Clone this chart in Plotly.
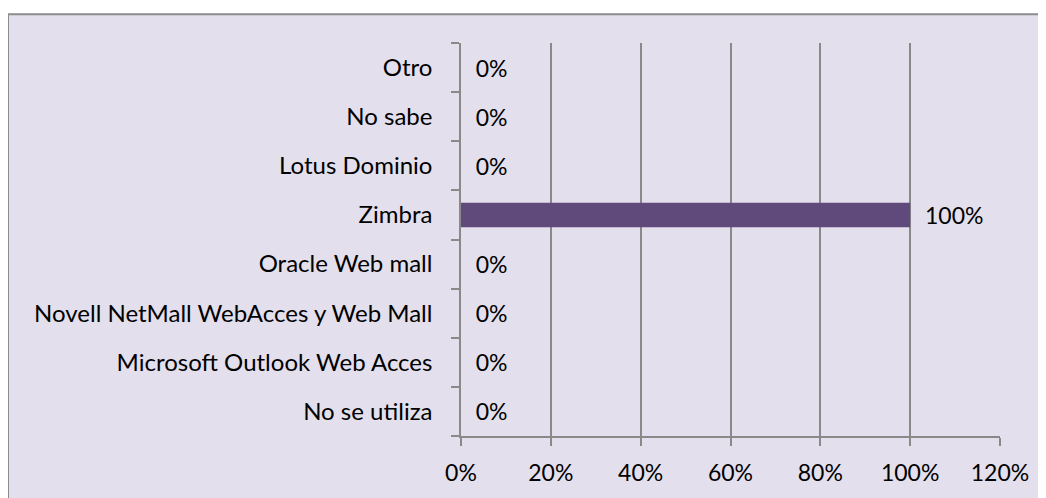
import plotly.graph_objects as go

categories = ["No se utiliza", "Microsoft Outlook Web Acces", "Novell NetMall WebAcces y Web Mall",
              "Oracle Web mall", "Zimbra", "Lotus Dominio", "No sabe", "Otro"]
values = [0, 0, 0, 0, 1.0, 0, 0, 0]
labels = ["0%", "0%", "0%", "0%", "100%", "0%", "0%", "0%"]
x_ticks = [0, 0.2, 0.4, 0.6, 0.8, 1.0, 1.2]
x_ticklabels = ["0%", "20%", "40%", "60%", "80%", "100%", "120%"]

BG = "#E4DFEC"
GRID = "#898989"
FONT = "Lato"

W, H = 1038, 490
L, R, T, B = 453, 46, 35, 59
plot_w = W - L - R
plot_h = H - T - B

fig = go.Figure()
fig.add_trace(go.Bar(
    x=values, y=categories, orientation="h",
    marker=dict(color="#604A7B", line=dict(width=0)),
    width=0.5,
    text=["  " + t for t in labels], textposition="outside",
    constraintext="none",
    textfont=dict(family=FONT, size=23, color="#000000"),
    cliponaxis=False,
))

fig.update_layout(
    width=W, height=H,
    margin=dict(l=L, r=R, t=T, b=B),
    paper_bgcolor="white",
    plot_bgcolor=BG,
    showlegend=False,
    font=dict(family=FONT, size=23, color="#000000"),
    shapes=[dict(type="rect", xref="paper", yref="paper",
                 x0=(0 - L) / plot_w, x1=(plot_w + R + 10) / plot_w, y0=-0.3, y1=(plot_h + T - 6) / plot_h,
                 fillcolor=BG, line=dict(color="#8C8C8C", width=2), layer="below")],
)
fig.update_xaxes(
    range=[0, 1.2], tickvals=x_ticks, ticktext=x_ticklabels,
    showgrid=True, gridcolor=GRID, gridwidth=1.5,
    showline=True, linecolor=GRID, linewidth=1.5,
    ticks="outside", ticklen=8, tickcolor=GRID, tickwidth=1.5,
    ticklabelstandoff=8,
    zeroline=False, fixedrange=True,
)
fig.update_yaxes(
    type="category", categoryorder="array", categoryarray=categories,
    range=[-0.5, 7.5],
    showgrid=False, showline=True, linecolor=GRID, linewidth=1.5,
    ticks="outside", tickson="boundaries", ticklen=8, tickcolor=GRID, tickwidth=1.5,
    tickfont=dict(family=FONT, size=24),
    ticklabelstandoff=22, zeroline=False, fixedrange=True,
)

fig.write_html("out.html")
